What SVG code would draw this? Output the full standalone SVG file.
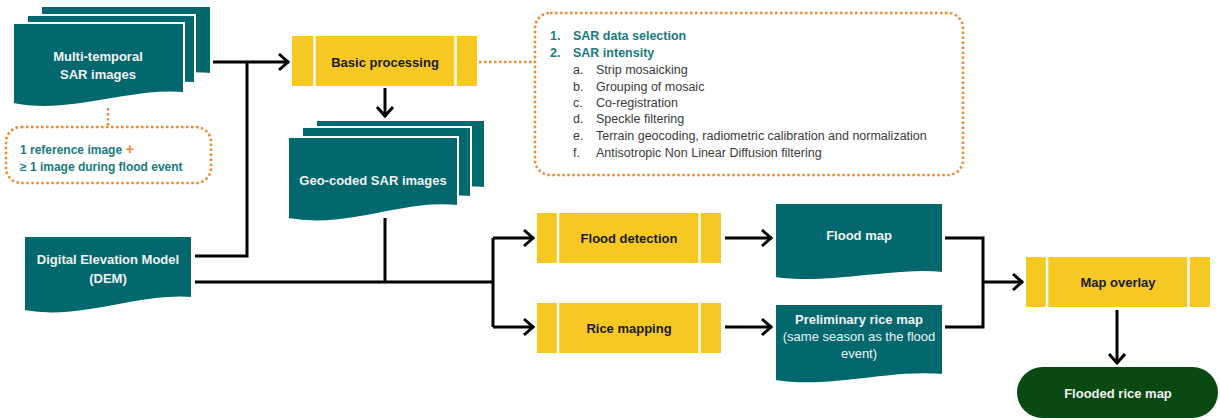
<svg xmlns="http://www.w3.org/2000/svg" width="1220" height="420" viewBox="0 0 1220 420">
<defs>
<style>
.doc{fill:#02686D;stroke:#fff;stroke-width:2}
.proc{fill:#F5C823}
.div{stroke:#fff;stroke-width:2.5}
.wl{font-family:"Liberation Sans",Arial,sans-serif;font-weight:bold;font-size:13px;fill:#F2F2F2;text-anchor:middle}
.wn{font-family:"Liberation Sans",Arial,sans-serif;font-size:13px;fill:#F2F2F2;text-anchor:middle}
.bl{font-family:"Liberation Sans",Arial,sans-serif;font-weight:bold;font-size:13px;fill:#1A1A1A;text-anchor:middle}
.con{fill:none;stroke:#000;stroke-width:3}
.dot{fill:none;stroke:#F0892E;stroke-width:2.5;stroke-dasharray:2.5 2.5}
.tl{font-family:"Liberation Sans",Arial,sans-serif;font-weight:bold;font-size:12.5px;fill:#1A7A7C}
.gl{font-family:"Liberation Sans",Arial,sans-serif;font-size:12.5px;fill:#3A3A3A}
</style>
<marker id="arr" markerUnits="userSpaceOnUse" markerWidth="20" markerHeight="20" viewBox="-12 -10 14 20" refX="0" refY="0" orient="auto">
<path d="M-10,-8 L-1,0 L-10,8" fill="none" stroke="#000" stroke-width="3"/>
</marker>
</defs>
<rect width="1220" height="420" fill="#fff"/>

<g id="connectors">
<path class="con" d="M213,62 H289" marker-end="url(#arr)"/>
<path class="con" d="M195,256 H247 V62"/>
<path class="con" d="M385,88 V117" marker-end="url(#arr)"/>
<path class="con" d="M385,218 V282"/>
<path class="con" d="M195,282 H493"/>
<path class="con" d="M493,238 V327"/>
<path class="con" d="M493,238 H534" marker-end="url(#arr)"/>
<path class="con" d="M493,327 H534" marker-end="url(#arr)"/>
<path class="con" d="M725,238 H772" marker-end="url(#arr)"/>
<path class="con" d="M725,327 H772" marker-end="url(#arr)"/>
<path class="con" d="M945,238 H983 V327 H945"/>
<path class="con" d="M983,282 H1023" marker-end="url(#arr)"/>
<path class="con" d="M1117,310 V364" marker-end="url(#arr)"/>
<path class="dot" d="M108,108 V127"/>
<path class="dot" d="M479,62 H535"/>
</g>

<g id="multi-temporal">
<path class="doc" d="M41,6 H211 V74 C160,70 110,86 41,80 Z"/>
<path class="doc" d="M27,15 H195 V83 C150,80 100,94 27,90 Z"/>
<path class="doc" d="M13,23 H184 V93 C130,88 70,116 13,104 Z"/>
<text class="wl" x="98" y="61">Multi-temporal</text>
<text class="wl" x="98" y="79">SAR images</text>
</g>

<g id="image-note">
<rect class="dot" x="6" y="127" width="205" height="56" rx="15"/>
<text class="tl" x="20" y="154" style="font-size:12px">1 reference image <tspan fill="#F0892E" style="font-size:15px">+</tspan></text>
<text class="tl" x="20" y="171" style="font-size:12px">≥ 1 image during flood event</text>
</g>

<g id="basic-processing">
<rect class="proc" x="292" y="36" width="185" height="50"/>
<line class="div" x1="314.5" y1="36" x2="314.5" y2="86"/>
<line class="div" x1="455.5" y1="36" x2="455.5" y2="86"/>
<text class="bl" x="385" y="67">Basic processing</text>
</g>

<g id="processing-steps">
<rect class="dot" x="535" y="13" width="428" height="162" rx="15"/>
<text class="tl" x="550" y="40">1.</text><text class="tl" x="573" y="40">SAR data selection</text>
<text class="tl" x="550" y="57">2.</text><text class="tl" x="573" y="57">SAR intensity</text>
<text class="gl" x="573" y="74">a.</text><text class="gl" x="596" y="74">Strip mosaicking</text>
<text class="gl" x="573" y="91">b.</text><text class="gl" x="596" y="91">Grouping of mosaic</text>
<text class="gl" x="573" y="107">c.</text><text class="gl" x="596" y="107">Co-registration</text>
<text class="gl" x="573" y="123">d.</text><text class="gl" x="596" y="123">Speckle filtering</text>
<text class="gl" x="573" y="140">e.</text><text class="gl" x="596" y="140">Terrain geocoding, radiometric calibration and normalization</text>
<text class="gl" x="573" y="157">f.</text><text class="gl" x="596" y="157">Antisotropic Non Linear Diffusion filtering</text>
</g>

<g id="geo-coded">
<path class="doc" d="M316,120 H485 V188 C440,184 390,198 316,194 Z"/>
<path class="doc" d="M302,127 H471 V197 C420,193 370,207 302,203 Z"/>
<path class="doc" d="M288,137 H458 V206 C400,200 350,230 288,219 Z"/>
<text class="wl" x="373" y="185">Geo-coded SAR images</text>
</g>

<g id="dem">
<path class="doc" d="M24,236 H192 V298 C140,293 80,322 24,311 Z"/>
<text class="wl" x="108" y="264">Digital Elevation Model</text>
<text class="wl" x="108" y="283">(DEM)</text>
</g>

<g id="flood-detection">
<rect class="proc" x="537" y="213" width="184" height="50"/>
<line class="div" x1="558" y1="213" x2="558" y2="263"/>
<line class="div" x1="699.5" y1="213" x2="699.5" y2="263"/>
<text class="bl" x="629" y="243">Flood detection</text>
</g>

<g id="rice-mapping">
<rect class="proc" x="537" y="303" width="184" height="50"/>
<line class="div" x1="558" y1="303" x2="558" y2="353"/>
<line class="div" x1="699.5" y1="303" x2="699.5" y2="353"/>
<text class="bl" x="629" y="333">Rice mapping</text>
</g>

<g id="flood-map">
<path class="doc" d="M775,203 H943 V273 C890,268 830,286 775,278 Z"/>
<text class="wl" x="859" y="240">Flood map</text>
</g>

<g id="preliminary-rice-map">
<path class="doc" d="M775,304 H943 V375 C890,370 830,390 775,381 Z"/>
<text class="wl" x="859" y="324">Preliminary rice map</text>
<text class="wn" x="859" y="341">(same season as the flood</text>
<text class="wn" x="859" y="358">event)</text>
</g>

<g id="map-overlay">
<rect class="proc" x="1026" y="257" width="184" height="50"/>
<line class="div" x1="1047" y1="257" x2="1047" y2="307"/>
<line class="div" x1="1188.5" y1="257" x2="1188.5" y2="307"/>
<text class="bl" x="1118" y="287">Map overlay</text>
</g>

<g id="flooded-rice-map">
<rect x="1017" y="367" width="201" height="51" rx="25.5" fill="#0B4912"/>
<text class="wl" x="1118" y="398">Flooded rice map</text>
</g>
</svg>
